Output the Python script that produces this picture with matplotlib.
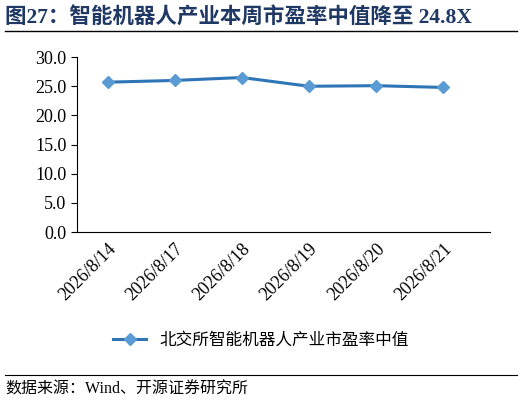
import matplotlib
matplotlib.use("Agg")
import matplotlib.pyplot as plt
from matplotlib.lines import Line2D

dates = ["2026/8/14", "2026/8/17", "2026/8/18", "2026/8/19", "2026/8/20", "2026/8/21"]
values = [25.7, 26.0, 26.5, 25.0, 25.1, 24.8]
series_name = "北交所智能机器人产业市盈率中值"
title = "图27：智能机器人产业本周市盈率中值降至 24.8X"
source = "数据来源：Wind、开源证券研究所"

fam = ["Liberation Serif", "Noto Sans CJK SC"]
plt.rcParams['font.family'] = fam

fig = plt.figure(figsize=(5.22, 4.05), dpi=100)
ax = fig.add_axes([0.147, 0.427, 0.792, 0.432])
x = range(len(dates))
ax.plot(x, values, color="#2E75B6", lw=2.2, marker="D", ms=6,
        mfc="#5B9BD5", mec="#5B9BD5", label=series_name)
ax.set_ylim(0, 30)
ax.set_xlim(-0.46, 5.7)
ax.set_yticks([0, 5, 10, 15, 20, 25, 30])
ax.set_yticklabels([f"{v:.1f}" for v in [0, 5, 10, 15, 20, 25, 30]], fontsize=13)
ax.set_xticks(list(x))
ax.set_xticklabels(dates, rotation=45, ha="right", rotation_mode="anchor", fontsize=13)
for s in ["top", "right"]:
    ax.spines[s].set_visible(False)
ax.tick_params(axis="x", length=0, pad=6)
ax.tick_params(axis="y", direction="out", length=4)

fig.legend(handles=[Line2D([], [], color="#2E75B6", lw=2.2, marker="D", ms=6,
                           mfc="#5B9BD5", mec="#5B9BD5")],
           labels=[series_name], loc="center", bbox_to_anchor=(0.5, 0.16),
           frameon=False, prop={"family": "Noto Sans CJK SC", "size": 12})

fig.text(0.01, 0.955, title, fontsize=15.5, fontweight="bold", color="#1F3864",
         va="center", family=fam)
fig.add_artist(Line2D([0.01, 0.99], [0.923, 0.923], color="black", lw=1))
fig.add_artist(Line2D([0.01, 0.99], [0.073, 0.073], color="black", lw=0.8))
fig.text(0.01, 0.038, source, fontsize=11.5, va="center", family=["Liberation Serif", "Noto Sans CJK SC"])
fig.savefig("out.png", dpi=100)
